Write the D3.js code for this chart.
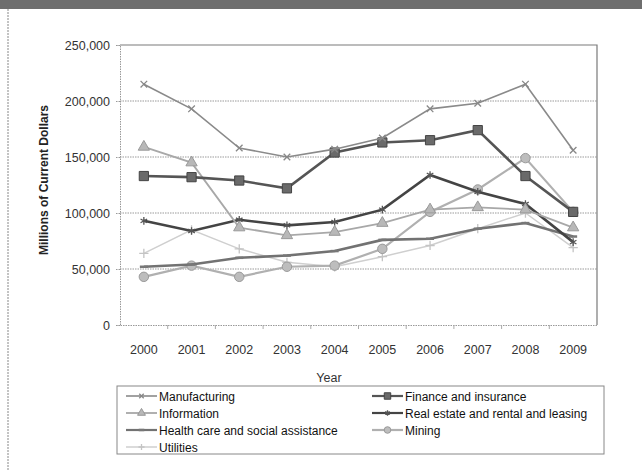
<!DOCTYPE html>
<html>
<head>
<meta charset="utf-8">
<script src="https://cdn.jsdelivr.net/npm/d3@7/dist/d3.min.js"></script>
<style>
  body { margin: 0; background: #fff; }
  svg { display: block; font-family: "Liberation Sans", Arial, sans-serif; }
  .tick text { font-size: 12.5px; fill: #333; }
</style>
</head>
<body>
<script>
// values, millions of current dollars
const years = [2000, 2001, 2002, 2003, 2004, 2005, 2006, 2007, 2008, 2009];
const yTicks = [0, 50000, 100000, 150000, 200000, 250000];

const manufacturing = [215000, 193000, 158000, 150000, 157000, 167000, 193000, 198000, 215000, 156000];
const finance = [133000, 132000, 129000, 122000, 154000, 163000, 165000, 174000, 133000, 101000];
const information = [159000, 145000, 87000, 80000, 83000, 91000, 103000, 105000, 103000, 87000];
const realEstate = [93000, 84000, 94000, 89000, 92000, 103000, 134000, 119000, 108000, 74000];
const healthCare = [52000, 54000, 60000, 62000, 66000, 76000, 77000, 86000, 91000, 79000];
const mining = [43000, 53000, 43000, 52000, 53000, 68000, 101000, 121000, 149000, 101000];
const utilities = [64000, 85000, 68000, 56000, 52000, 61000, 71000, 86000, 100000, 69000];

const seriesNames = ["Manufacturing", "Finance and insurance", "Information",
  "Real estate and rental and leasing", "Health care and social assistance", "Mining", "Utilities"];
const seriesValues = [manufacturing, finance, information, realEstate, healthCare, mining, utilities];

// grey shades, excel 2007 style markers
const symX = d3.symbolX || d3.symbolCross;
const symStar = d3.symbolAsterisk || d3.symbolStar;
const symPlus = d3.symbolPlus || d3.symbolCross;
const styles = [
  { stroke: "#8a8a8a", width: 1.6, sym: symX, size: 30, fill: "none", mstroke: "#888" },
  { stroke: "#555", width: 2.6, sym: d3.symbolSquare, size: 85, fill: "#6a6a6a", mstroke: "#444" },
  { stroke: "#a8a8a8", width: 1.8, sym: d3.symbolTriangle, size: 55, fill: "#b8b8b8", mstroke: "#999" },
  { stroke: "#444", width: 2.6, sym: symStar, size: 40, fill: "none", mstroke: "#555" },
  { stroke: "#727272", width: 2.6, sym: null, size: 0, fill: "none", mstroke: "#777" },
  { stroke: "#b0b0b0", width: 2.2, sym: d3.symbolCircle, size: 70, fill: "#bdbdbd", mstroke: "#9a9a9a" },
  { stroke: "#cfcfcf", width: 1.5, sym: symPlus, size: 30, fill: "none", mstroke: "#c4c4c4" }
];

const W = 642, H = 471;
const plot = { left: 120, right: 597, top: 45, bottom: 325 };

const svg = d3.select("body").append("svg")
  .attr("width", W).attr("height", H);

// scanned look: dark strip at top, dotted frame on the left
svg.append("rect").attr("x", 0).attr("y", 0).attr("width", W).attr("height", 9).attr("fill", "#6e6e6e");
svg.append("line").attr("x1", 8).attr("x2", 8).attr("y1", 9).attr("y2", H)
  .attr("stroke", "#888").attr("stroke-dasharray", "2,1");

const x = d3.scaleBand().domain(years).range([plot.left, plot.right]);
const y = d3.scaleLinear().domain([0, 250000]).range([plot.bottom, plot.top]);

// gridlines
svg.append("g").selectAll("line").data(yTicks.slice(1, -1)).enter().append("line")
  .attr("x1", plot.left).attr("x2", plot.right)
  .attr("y1", d => y(d)).attr("y2", d => y(d))
  .attr("stroke", "#9a9a9a").attr("stroke-dasharray", "1.5,1");

// plot border on top and right
svg.append("path")
  .attr("d", `M${plot.left},${y(250000)}H${plot.right}V${plot.bottom}`)
  .attr("fill", "none").attr("stroke", "#7a7a7a").attr("stroke-width", 1.2);

const yAxis = svg.append("g")
  .attr("transform", `translate(${plot.left},0)`)
  .call(d3.axisLeft(y).tickValues(yTicks).tickSize(4).tickPadding(6).tickFormat(d3.format(",")));
yAxis.selectAll("line, path").attr("stroke", "#999").attr("stroke-dasharray", "1.5,1");

const xAxis = svg.append("g")
  .attr("transform", `translate(0,${plot.bottom})`)
  .call(d3.axisBottom(x).tickSize(0).tickPadding(20));
xAxis.select("path").attr("stroke", "#999").attr("stroke-dasharray", "1.5,1");
// small ticks between categories
xAxis.selectAll("line.sep").data(years.slice(1)).enter().append("line")
  .attr("class", "sep")
  .attr("x1", d => x(d)).attr("x2", d => x(d)).attr("y1", 0).attr("y2", 4)
  .attr("stroke", "#aaa");

svg.append("text")
  .attr("transform", `translate(48,180) rotate(-90)`)
  .attr("text-anchor", "middle")
  .style("font-size", "12px").style("font-weight", "bold").attr("fill", "#222")
  .text("Millions of Current Dollars");

svg.append("text")
  .attr("x", 329).attr("y", 382)
  .attr("text-anchor", "middle")
  .style("font-size", "12.5px").attr("fill", "#333")
  .text("Year");

const line = d3.line()
  .x((d, i) => x(years[i]) + x.bandwidth() / 2)
  .y(d => y(d));

function drawMarker(g, st, cx, cy, scale) {
  if (!st.sym) {
    g.append("line").attr("x1", cx - 4 * scale).attr("x2", cx + 4 * scale)
      .attr("y1", cy).attr("y2", cy).attr("stroke", st.mstroke).attr("stroke-width", 2.5);
    return;
  }
  g.append("path")
    .attr("d", d3.symbol().type(st.sym).size(st.size * scale * scale)())
    .attr("transform", `translate(${cx},${cy})`)
    .attr("fill", st.fill)
    .attr("stroke", st.mstroke)
    .attr("stroke-width", st.fill === "none" ? 1.3 : 1);
}

// draw in reverse so the first series sits on top
const marks = svg.append("g");
seriesValues.map((vals, k) => k).reverse().forEach(k => {
  const st = styles[k];
  const g = marks.append("g");
  g.append("path").datum(seriesValues[k])
    .attr("d", line)
    .attr("fill", "none")
    .attr("stroke", st.stroke)
    .attr("stroke-width", st.width);
  seriesValues[k].forEach((v, i) => {
    drawMarker(g, st, x(years[i]) + x.bandwidth() / 2, y(v), 1);
  });
});

// legend
const lg = svg.append("g");
lg.append("rect")
  .attr("x", 117).attr("y", 386).attr("width", 487).attr("height", 68)
  .attr("fill", "#fff").attr("stroke", "#888");

const legendItems = lg.selectAll("g.item").data(seriesNames).enter().append("g")
  .attr("class", "item")
  .attr("transform", (d, i) => `translate(${i % 2 === 0 ? 126 : 372},${396 + Math.floor(i / 2) * 17})`);

legendItems.each(function (d, i) {
  const g = d3.select(this);
  const st = styles[i];
  g.append("line").attr("x1", 0).attr("x2", 31).attr("y1", 0).attr("y2", 0)
    .attr("stroke", st.stroke).attr("stroke-width", Math.min(st.width, 2.2));
  drawMarker(g, st, 15.5, 0, 0.7);
  g.append("text")
    .attr("x", 33).attr("y", 4.5)
    .style("font-size", "12px").attr("fill", "#111")
    .text(d);
});
</script>
</body>
</html>
